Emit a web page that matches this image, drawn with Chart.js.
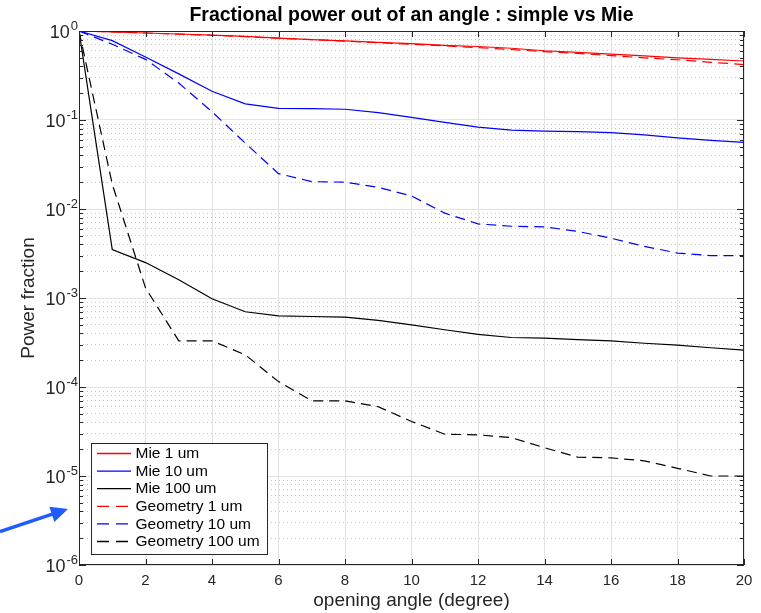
<!DOCTYPE html>
<html>
<head>
<meta charset="utf-8">
<script src="https://cdn.jsdelivr.net/npm/chart.js@4.4.1/dist/chart.umd.min.js"></script>
<style>
  html, body { margin: 0; padding: 0; background: #fff; }
  #wrap { width: 761px; height: 613px; }
</style>
</head>
<body>
<div id="wrap"><canvas id="chart" width="761" height="613"></canvas></div>
<script>
// Datos (angulo en grados, fraccion de potencia)
const angles = [0, 1, 2, 3, 4, 5, 6, 7, 8, 9, 10, 11, 12, 13, 14, 15, 16, 17, 18, 19, 20];
const mie1 = [1, 0.975, 0.95, 0.925, 0.90, 0.87, 0.83, 0.80, 0.775, 0.745, 0.72, 0.69, 0.67, 0.64, 0.60, 0.575, 0.55, 0.525, 0.50, 0.48, 0.46];
const mie10 = [1, 0.78, 0.51, 0.33, 0.21, 0.152, 0.135, 0.134, 0.132, 0.121, 0.107, 0.094, 0.083, 0.077, 0.075, 0.074, 0.072, 0.068, 0.063, 0.059, 0.056];
const mie100 = [1, 0.0035, 0.0025, 0.0016, 0.00098, 0.0007, 0.00063, 0.00062, 0.00061, 0.00056, 0.0005, 0.00044, 0.00039, 0.00036, 0.000355, 0.00034, 0.00033, 0.00031, 0.000295, 0.000276, 0.00026];
const geo1 = [1, 0.975, 0.95, 0.92, 0.895, 0.865, 0.83, 0.80, 0.77, 0.74, 0.71, 0.68, 0.65, 0.62, 0.585, 0.56, 0.53, 0.50, 0.475, 0.445, 0.42];
const geo10 = [1, 0.71, 0.48, 0.26, 0.124, 0.055, 0.025, 0.0203, 0.020, 0.0175, 0.014, 0.009, 0.0068, 0.0064, 0.0063, 0.0056, 0.0047, 0.0038, 0.0032, 0.0030, 0.0030];
const geo100 = [1, 0.019, 0.0013, 0.00033, 0.00033, 0.00023, 0.000115, 0.00007, 0.00007, 0.00006, 0.000041, 0.0000295, 0.000029, 0.000027, 0.0000208, 0.0000163, 0.000016, 0.0000148, 0.0000122, 0.00001, 0.00001];

// Ticks de los ejes
const xTicks = [0, 2, 4, 6, 8, 10, 12, 14, 16, 18, 20];
const yDecades = [1e-6, 1e-5, 1e-4, 1e-3, 1e-2, 1e-1, 1];
const yMinorFactors = [2, 3, 4, 5, 6, 7, 8, 9];
const yMinor = yDecades.slice(0, -1).flatMap(d => yMinorFactors.map(f => d * f));

const FONT = "'Liberation Sans', Arial, Helvetica, sans-serif";
const AXIS = '#262626';

// Funcion para crear una serie de linea
function makeLine(label, values, color, dashed) {
    return {
        label: label,
        data: angles.map((a, i) => ({ x: a, y: values[i] })),
        borderColor: color,
        backgroundColor: color,
        borderWidth: 1.2,
        borderDash: dashed ? [10, 6] : [],
        pointRadius: 0,
        tension: 0,
        fill: false
    };
}

// Plugin: caja, marcas interiores, etiquetas 10^n, leyenda y flecha
const extras = {
    id: 'extras',
    afterDraw(chart) {
        const { ctx, chartArea: a, scales: { x, y } } = chart;
        ctx.save();

        // marcas hacia adentro
        ctx.strokeStyle = AXIS;
        ctx.lineWidth = 1;
        ctx.beginPath();
        xTicks.forEach(v => {
            const px = Math.round(x.getPixelForValue(v)) + 0.5;
            ctx.moveTo(px, a.bottom); ctx.lineTo(px, a.bottom - 6);
            ctx.moveTo(px, a.top); ctx.lineTo(px, a.top + 6);
        });
        yDecades.forEach(v => {
            const py = Math.round(y.getPixelForValue(v)) + 0.5;
            ctx.moveTo(a.left, py); ctx.lineTo(a.left + 7, py);
            ctx.moveTo(a.right, py); ctx.lineTo(a.right - 7, py);
        });
        yMinor.forEach(v => {
            const py = Math.round(y.getPixelForValue(v)) + 0.5;
            ctx.moveTo(a.left, py); ctx.lineTo(a.left + 4, py);
            ctx.moveTo(a.right, py); ctx.lineTo(a.right - 4, py);
        });
        ctx.stroke();

        // caja del grafico
        ctx.strokeRect(Math.round(a.left) + 0.5, Math.round(a.top) + 0.5,
            Math.round(a.right - a.left) - 1, Math.round(a.bottom - a.top) - 1);

        // etiquetas del eje y con exponente
        ctx.fillStyle = AXIS;
        yDecades.forEach(v => {
            const py = y.getPixelForValue(v);
            const exp = String(Math.round(Math.log10(v)));
            ctx.font = '13px ' + FONT;
            const ew = ctx.measureText(exp).width;
            ctx.textAlign = 'right';
            ctx.textBaseline = 'alphabetic';
            ctx.fillText(exp, a.left - 1, py - 1);
            ctx.font = '18px ' + FONT;
            ctx.textBaseline = 'middle';
            ctx.fillText('10', a.left - 2 - ew, py + 2);
        });

        // leyenda
        const lx = a.left + 12, ly = a.bottom - 122, lw = 176, lh = 111;
        ctx.fillStyle = '#fff';
        ctx.fillRect(lx, ly, lw, lh);
        ctx.strokeStyle = AXIS;
        ctx.setLineDash([]);
        ctx.strokeRect(lx + 0.5, ly + 0.5, lw, lh);
        ctx.font = '15.5px ' + FONT;
        ctx.textAlign = 'left';
        ctx.textBaseline = 'middle';
        chart.data.datasets.forEach((ds, i) => {
            const cy = ly + 10.5 + i * 17.6;
            ctx.strokeStyle = ds.borderColor;
            ctx.lineWidth = 1.3;
            ctx.setLineDash(ds.borderDash.length ? [12, 7] : []);
            ctx.beginPath();
            ctx.moveTo(lx + 6, cy); ctx.lineTo(lx + 40, cy);
            ctx.stroke();
            ctx.fillStyle = '#000';
            ctx.fillText(ds.label, lx + 44.5, cy + 0.5);
        });
        ctx.setLineDash([]);

        // flecha azul de anotacion
        const tail = [0, 531.5], tip = [68, 509];
        const dx = tip[0] - tail[0], dy = tip[1] - tail[1];
        const len = Math.hypot(dx, dy), ux = dx / len, uy = dy / len;
        const bx = tip[0] - 17 * ux, by = tip[1] - 17 * uy;
        ctx.strokeStyle = '#1f5bff';
        ctx.fillStyle = '#1f5bff';
        ctx.lineWidth = 3.5;
        ctx.beginPath();
        ctx.moveTo(tail[0], tail[1]); ctx.lineTo(bx + 2 * ux, by + 2 * uy);
        ctx.stroke();
        ctx.beginPath();
        ctx.moveTo(tip[0], tip[1]);
        ctx.lineTo(bx - 8 * uy, by + 8 * ux);
        ctx.lineTo(bx + 8 * uy, by - 8 * ux);
        ctx.closePath();
        ctx.fill();

        ctx.restore();
    }
};

const ctx = document.getElementById('chart').getContext('2d');
new Chart(ctx, {
    type: 'line',
    data: {
        datasets: [
            makeLine('Mie 1 um', mie1, '#ff0000', false),
            makeLine('Mie 10 um', mie10, '#0000ff', false),
            makeLine('Mie 100 um', mie100, '#000000', false),
            makeLine('Geometry 1 um', geo1, '#ff0000', true),
            makeLine('Geometry 10 um', geo10, '#0000ff', true),
            makeLine('Geometry 100 um', geo100, '#000000', true)
        ]
    },
    options: {
        responsive: false,
        animation: false,
        layout: { padding: { left: 0, right: 17, top: 0, bottom: 0 } },
        plugins: {
            legend: { display: false },
            tooltip: { enabled: false },
            title: {
                display: true,
                text: 'Fractional power out of an angle : simple vs Mie',
                fullSize: false,
                color: '#000',
                font: { family: FONT, size: 19.5, weight: 'bold' },
                padding: { top: 4, bottom: 3.6 }
            }
        },
        scales: {
            x: {
                type: 'linear',
                min: 0,
                max: 20,
                afterBuildTicks: s => { s.ticks = xTicks.map(v => ({ value: v })); },
                afterFit: s => { s.height = 48; },
                grid: { color: '#e3e3e3', drawTicks: false },
                border: { display: false },
                ticks: { color: AXIS, padding: 7, maxRotation: 0, font: { family: FONT, size: 15 } },
                title: {
                    display: true,
                    text: 'opening angle (degree)',
                    color: AXIS,
                    font: { family: FONT, size: 19 },
                    padding: { top: 0, bottom: 1 }
                }
            },
            y: {
                type: 'logarithmic',
                min: 1e-6,
                max: 1,
                afterBuildTicks: s => { s.ticks = yDecades.map(v => ({ value: v, major: true })); },
                afterFit: s => { s.width = 79; },
                grid: { color: '#e3e3e3', drawTicks: false },
                border: { display: false },
                ticks: { display: false },
                title: {
                    display: true,
                    text: 'Power fraction',
                    color: AXIS,
                    font: { family: FONT, size: 19 },
                    padding: { top: 17, bottom: 0 }
                }
            },
            yMinor: {
                type: 'logarithmic',
                position: 'left',
                min: 1e-6,
                max: 1,
                afterBuildTicks: s => { s.ticks = yMinor.map(v => ({ value: v })); },
                afterFit: s => { s.width = 0; },
                grid: { color: '#c4c4c4', drawTicks: false },
                border: { display: false, dash: [1, 3] },
                ticks: { display: false }
            }
        }
    },
    plugins: [extras]
});
</script>
</body>
</html>
